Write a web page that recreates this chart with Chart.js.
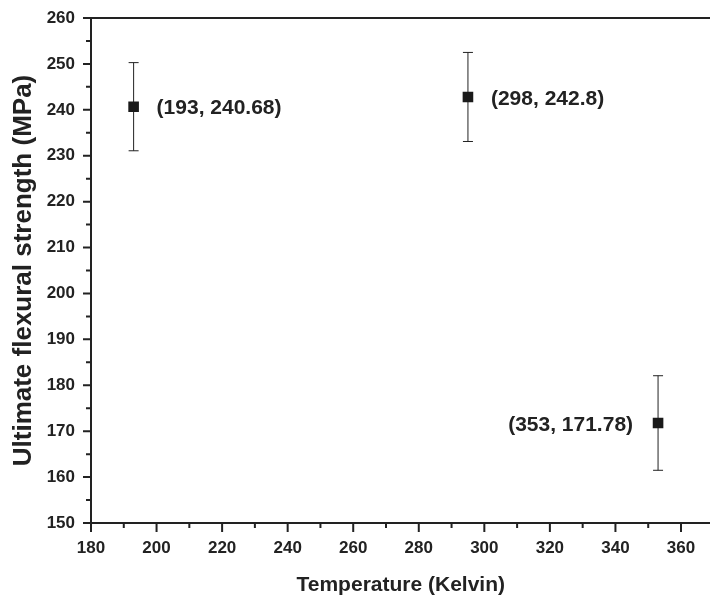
<!DOCTYPE html>
<html>
<head>
<meta charset="utf-8">
<script src="https://cdn.jsdelivr.net/npm/chart.js@4.4.0/dist/chart.umd.min.js"></script>
<style>
html, body { margin: 0; padding: 0; background: #fff; overflow: hidden; }
/* a bit wider than the window: Chart.js keeps a point-radius gap on the right */
#wrap { width: 718px; height: 603px; }
</style>
</head>
<body>
<div id="wrap"><canvas id="flexural"></canvas></div>
<script>
// points: temperature (K) / strength (MPa)
const temps = [193, 295, 353];
const strength = [240.68, 242.8, 171.78];
const errBars = [9.6, 9.7, 10.3];
const pointLabels = ['(193, 240.68)', '(298, 242.8)', '(353, 171.78)'];
const labelSide = ['right', 'right', 'left'];

const xTicks = [180, 200, 220, 240, 260, 280, 300, 320, 340, 360];
const xMinor = [190, 210, 230, 250, 270, 290, 310, 330, 350];
const yTicks = [150, 160, 170, 180, 190, 200, 210, 220, 230, 240, 250, 260];
const yMinor = [155, 165, 175, 185, 195, 205, 215, 225, 235, 245, 255];

const ink = '#222';
const fontFam = '"Liberation Sans", Arial, sans-serif';

// frame top line, tick marks, error bars and point labels
const extras = {
  id: 'extras',
  beforeDatasetsDraw(chart) {
    const {ctx, chartArea: a, scales: {x, y}} = chart;
    ctx.save();
    ctx.strokeStyle = ink;
    ctx.lineWidth = 2;
    ctx.beginPath();
    ctx.moveTo(a.left, a.top);
    ctx.lineTo(a.right, a.top);
    ctx.stroke();

    ctx.beginPath();
    yTicks.forEach(v => { const p = y.getPixelForValue(v); ctx.moveTo(a.left - 8, p); ctx.lineTo(a.left, p); });
    yMinor.forEach(v => { const p = y.getPixelForValue(v); ctx.moveTo(a.left - 5, p); ctx.lineTo(a.left, p); });
    xTicks.forEach(v => { const p = x.getPixelForValue(v); ctx.moveTo(p, a.bottom); ctx.lineTo(p, a.bottom + 9); });
    xMinor.forEach(v => { const p = x.getPixelForValue(v); ctx.moveTo(p, a.bottom); ctx.lineTo(p, a.bottom + 5); });
    ctx.stroke();

    ctx.lineWidth = 1;
    ctx.beginPath();
    temps.forEach((t, i) => {
      const px = x.getPixelForValue(t);
      const hi = y.getPixelForValue(strength[i] + errBars[i]);
      const lo = y.getPixelForValue(strength[i] - errBars[i]);
      ctx.moveTo(px, hi); ctx.lineTo(px, lo);
      ctx.moveTo(px - 5, hi); ctx.lineTo(px + 5, hi);
      ctx.moveTo(px - 5, lo); ctx.lineTo(px + 5, lo);
    });
    ctx.stroke();
    ctx.restore();
  },
  afterDatasetsDraw(chart) {
    const {ctx, scales: {x, y}} = chart;
    ctx.save();
    ctx.fillStyle = ink;
    ctx.font = 'bold 21px ' + fontFam;
    ctx.textBaseline = 'middle';
    temps.forEach((t, i) => {
      const px = x.getPixelForValue(t);
      const py = y.getPixelForValue(strength[i]) + 2;
      if (labelSide[i] == 'right') {
        ctx.textAlign = 'left';
        ctx.fillText(pointLabels[i], px + 23, py);
      } else {
        ctx.textAlign = 'right';
        ctx.fillText(pointLabels[i], px - 25, py);
      }
    });
    ctx.restore();
  }
};

const ctx = document.getElementById('flexural');

new Chart(ctx, {
  type: 'scatter',
  data: {
    datasets: [{
      data: temps.map((t, i) => ({x: t, y: strength[i]})),
      pointStyle: 'rect',
      pointRadius: 7.5,
      pointHoverRadius: 7.5,
      backgroundColor: '#1a1a1a',
      borderWidth: 0
    }]
  },
  options: {
    responsive: true,
    maintainAspectRatio: false,
    animation: false,
    layout: { padding: { top: 18, right: 0, left: 0, bottom: 0 } },
    plugins: { legend: { display: false }, tooltip: { enabled: false } },
    scales: {
      x: {
        type: 'linear',
        min: 180,
        max: 369,
        afterBuildTicks: s => { s.ticks = xTicks.map(v => ({value: v})); },
        afterFit: s => { s.height = 80; s.paddingLeft = 0; s.paddingRight = 0; },
        grid: { display: false, drawTicks: false },
        border: { display: true, color: ink, width: 2 },
        ticks: { color: ink, padding: 15, maxRotation: 0, font: { family: fontFam, size: 17, weight: 'bold' } },
        title: {
          display: true,
          text: 'Temperature (Kelvin)',
          color: ink,
          padding: { top: 0, bottom: 5 },
          font: { family: fontFam, size: 21, weight: 'bold' }
        }
      },
      y: {
        min: 150,
        max: 260,
        afterBuildTicks: s => { s.ticks = yTicks.map(v => ({value: v})); },
        afterFit: s => { s.width = 91; s.paddingTop = 0; s.paddingBottom = 0; },
        grid: { display: false, drawTicks: false },
        border: { display: true, color: ink, width: 2 },
        ticks: { color: ink, padding: 16, font: { family: fontFam, size: 17, weight: 'bold' } },
        title: {
          display: true,
          text: 'Ultimate flexural strength (MPa)',
          color: ink,
          padding: { top: 8, bottom: 0 },
          font: { family: fontFam, size: 26, weight: 'bold' }
        }
      }
    }
  },
  plugins: [extras]
});
</script>
</body>
</html>
